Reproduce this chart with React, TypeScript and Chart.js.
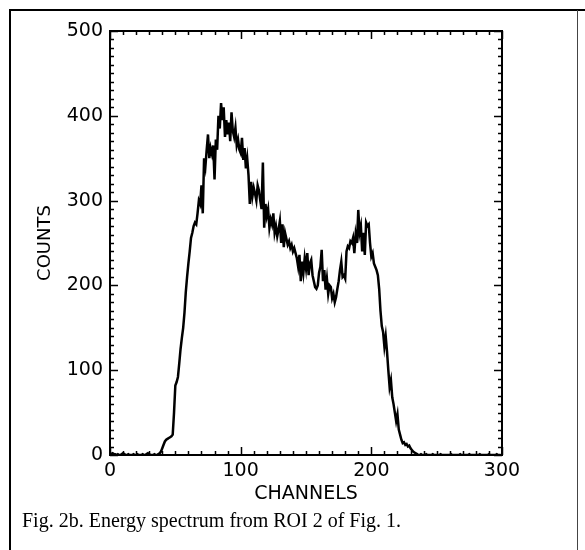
import React, { useEffect, useRef } from "react";
import { Chart, registerables } from "chart.js";

Chart.register(...registerables);

// Counts per channel (channels 0..299)
const counts: number[] = [
  // 0-38
  2, 1, 2, 1, 1, 0, 1, 0, 0, 1, 2, 1, 0, 0, 1, 0, 0, 0, 1, 0,
  0, 1, 0, 0, 0, 1, 0, 0, 1, 2, 1, 0, 0, 0, 1, 0, 0, 1, 2,
  // 39-49
  4, 8, 12, 16, 18, 19, 20, 21, 22, 24, 50,
  // 50-59
  82, 86, 92, 108, 125, 138, 150, 168, 192, 210,
  // 60-69
  226, 240, 256, 262, 270, 274, 272, 285, 300, 296,
  // 70-79
  318, 285, 350, 340, 360, 378, 350, 362, 355, 365,
  // 80-89
  325, 372, 360, 400, 385, 415, 395, 410, 375, 395,
  // 90-99
  378, 392, 370, 404, 382, 375, 386, 365, 372, 360,
  // 100-109
  356, 374, 348, 362, 338, 350, 330, 296, 322, 305,
  // 110-119
  315, 308, 300, 318, 312, 300, 290, 345, 268, 296,
  // 120-129
  282, 290, 268, 278, 272, 285, 262, 270, 258, 266,
  // 130-139
  276, 250, 272, 245, 262, 255, 248, 252, 244, 248,
  // 140-149
  240, 244, 238, 232, 222, 236, 205, 228, 215, 232,
  // 150-159
  220, 238, 212, 226, 230, 212, 205, 198, 196, 200,
  // 160-169
  215, 222, 242, 205, 218, 195, 208, 190, 200, 198,
  // 170-179
  185, 190, 180, 186, 196, 205, 218, 228, 210, 212,
  // 180-189
  208, 240, 246, 244, 252, 250, 256, 238, 260, 250,
  // 190-199
  289, 262, 270, 240, 262, 236, 274, 270, 272, 250,
  // 200-209
  234, 238, 226, 222, 218, 212, 196, 170, 152, 145,
  // 210-219
  128, 140, 122, 100, 80, 88, 68, 60, 50, 40,
  // 220-229
  48, 30, 24, 18, 14, 15, 12, 13, 10, 11,
  // 230-239
  8, 6, 4, 3, 2, 1, 0, 0, 1, 0,
  // 240-299
  0, 0, 1, 0, 0, 0, 0, 1, 0, 0, 0, 0, 0, 1, 0, 0, 0, 0, 0, 0,
  0, 1, 0, 0, 0, 0, 0, 0, 1, 0, 0, 0, 0, 0, 0, 1, 0, 0, 0, 0,
  0, 0, 0, 1, 0, 0, 0, 0, 0, 0, 1, 0, 0, 0, 0, 0, 1, 0, 0, 0,
];
const channels: number[] = counts.map((_, i) => i);

const xTickLabels = [0, 100, 200, 300];
const yTickLabels = [0, 100, 200, 300, 400, 500];
const xTitle = "CHANNELS";
const yTitle = "COUNTS";
const caption = "Fig. 2b. Energy spectrum from ROI 2 of Fig. 1.";

const W = 585;
const H = 550;

const decorPlugin = {
  id: "decor",
  afterDraw(chart: any) {
    const { ctx, chartArea: a, scales } = chart;
    const xs = scales.x;
    const ys = scales.y;
    ctx.save();
    ctx.strokeStyle = "#000";
    ctx.lineCap = "butt";
    // inward ticks on all four sides
    ctx.lineWidth = 1.5;
    ctx.beginPath();
    for (let v = xTickLabels[0]; v <= xTickLabels[xTickLabels.length - 1]; v += 10) {
      const px = Math.round(xs.getPixelForValue(v)) + 0.5;
      const len = v % 100 === 0 ? 8 : 4;
      ctx.moveTo(px, a.bottom);
      ctx.lineTo(px, a.bottom - len);
      ctx.moveTo(px, a.top);
      ctx.lineTo(px, a.top + len);
    }
    for (let v = yTickLabels[0]; v <= yTickLabels[yTickLabels.length - 1]; v += 10) {
      const py = Math.round(ys.getPixelForValue(v)) + 0.5;
      const len = v % 100 === 0 ? 8 : 4;
      ctx.moveTo(a.left, py);
      ctx.lineTo(a.left + len, py);
      ctx.moveTo(a.right, py);
      ctx.lineTo(a.right - len, py);
    }
    ctx.stroke();
    // plot box
    ctx.lineWidth = 2;
    ctx.strokeRect(a.left, a.top, a.right - a.left, a.bottom - a.top);
    // outer frame
    ctx.lineWidth = 2;
    ctx.beginPath();
    ctx.moveTo(10, H);
    ctx.lineTo(10, 10);
    ctx.lineTo(W, 10);
    ctx.stroke();
    ctx.lineWidth = 1;
    ctx.strokeStyle = "#444";
    ctx.beginPath();
    ctx.moveTo(577.5, 10);
    ctx.lineTo(577.5, H);
    ctx.stroke();
    // caption
    ctx.fillStyle = "#000";
    ctx.font = '20px "Liberation Serif", "Times New Roman", serif';
    ctx.textAlign = "left";
    ctx.textBaseline = "alphabetic";
    ctx.fillText(caption, 22, 527);
    ctx.restore();
  },
};

export default function App() {
  const ref = useRef<HTMLCanvasElement | null>(null);

  useEffect(() => {
    document.body.style.margin = "0";
    document.body.style.background = "#fff";
    const canvas = ref.current;
    if (!canvas) return;
    const font = { family: '"DejaVu Sans", sans-serif', size: 19 };
    const chart = new Chart(canvas, {
      type: "line",
      data: {
        datasets: [
          {
            data: channels.map((c, i) => ({ x: c, y: counts[i] })),
            borderColor: "#000",
            borderWidth: 2.5,
            pointRadius: 0,
            tension: 0,
            fill: false,
          },
        ],
      },
      options: {
        animation: false,
        responsive: false,
        maintainAspectRatio: false,
        layout: { padding: { left: 0, top: 31, right: 83, bottom: 0 } },
        plugins: {
          legend: { display: false },
          tooltip: { enabled: false },
          title: { display: false },
        },
        scales: {
          x: {
            type: "linear",
            min: xTickLabels[0],
            max: xTickLabels[xTickLabels.length - 1],
            grid: { display: false, drawTicks: false },
            border: { display: false },
            ticks: {
              stepSize: 100,
              color: "#000",
              font,
              padding: 5,
              maxRotation: 0,
            },
            title: {
              display: true,
              text: xTitle,
              color: "#000",
              font,
              padding: { top: 0, bottom: 45 },
            },
            afterFit: (s: any) => {
              s.height = 95;
            },
          },
          y: {
            type: "linear",
            min: yTickLabels[0],
            max: yTickLabels[yTickLabels.length - 1],
            grid: { display: false, drawTicks: false },
            border: { display: false },
            ticks: {
              stepSize: 100,
              color: "#000",
              font,
              padding: 7,
            },
            title: {
              display: true,
              text: yTitle,
              color: "#000",
              font: { family: '"DejaVu Sans", sans-serif', size: 18 },
              padding: { top: 35, bottom: 0 },
            },
            afterFit: (s: any) => {
              s.width = 110;
            },
          },
        },
      },
      plugins: [decorPlugin],
    });
    return () => chart.destroy();
  }, []);

  return (
    <canvas
      ref={ref}
      width={W}
      height={H}
      style={{ display: "block", width: W, height: H }}
    />
  );
}
